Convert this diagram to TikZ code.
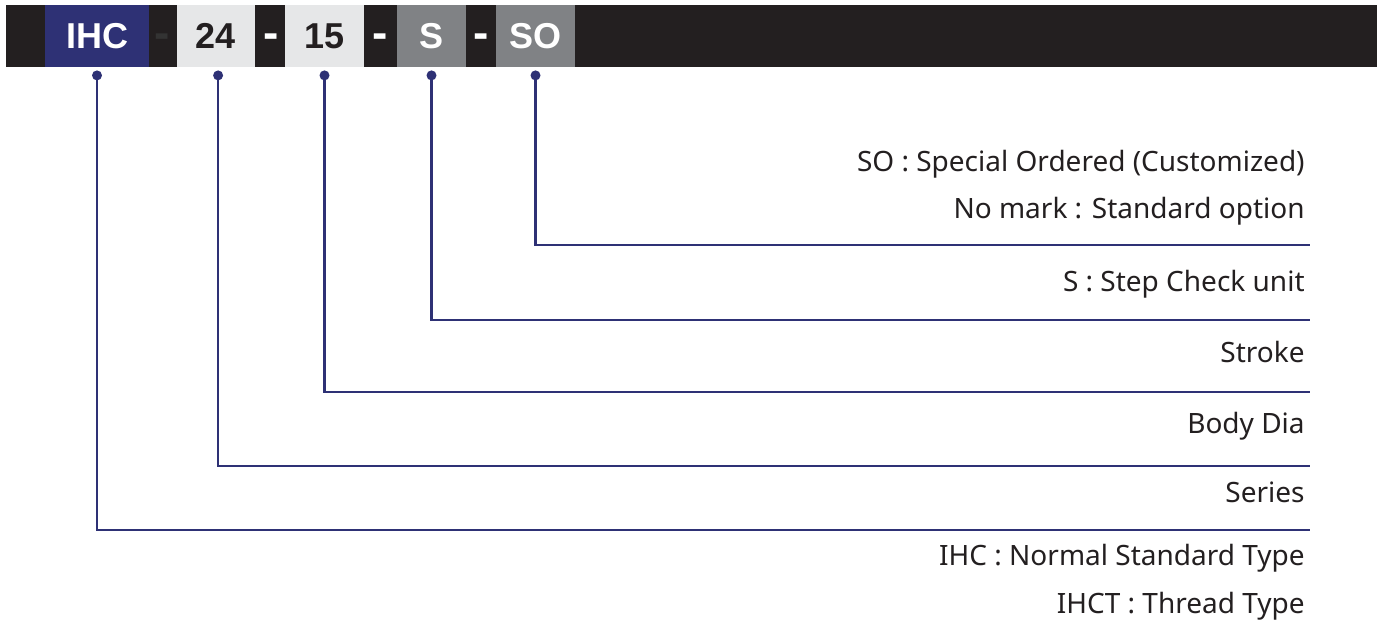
\documentclass[tikz,border=0pt]{standalone}
\usepackage{fontspec}
\setmainfont{Noto Sans}
\newfontfamily\codefont{Liberation Sans}
\usetikzlibrary{positioning}
\definecolor{navy}{HTML}{2E3175}
\definecolor{barblack}{HTML}{231F20}
\definecolor{lightgrey}{HTML}{E6E7E8}
\definecolor{midgrey}{HTML}{808285}
\tikzstyle{codebox} = [rectangle, minimum height=31pt, inner sep=0pt, font=\codefont\bfseries\fontsize{18pt}{20pt}\selectfont]
\tikzstyle{sep} = [anchor=base, inner sep=0pt, font=\codefont\bfseries\fontsize{23pt}{24pt}\selectfont, text=white]
\tikzstyle{dot} = [circle, fill=navy, minimum size=5pt, inner sep=0pt]
\tikzstyle{lead} = [navy, line width=1.1pt]
\tikzstyle{desc} = [anchor=base east, inner sep=0pt, font=\fontsize{14pt}{16pt}\selectfont, text=barblack]

\begin{document}
\begin{tikzpicture}[x=0.5pt, y=-0.5pt]
\useasboundingbox (0,0) rectangle (1384,620);
\fill[barblack] (6,5) rectangle (1377,67);

% code boxes
\node (bIHC) [codebox, fill=navy, text=white, minimum width=52pt] at (97,36) {IHC};
\node (bDia) [codebox, fill=lightgrey, text=barblack, minimum width=39pt] at (215.5,36) {24};
\node (bStroke) [codebox, fill=lightgrey, text=barblack, minimum width=39.5pt] at (324.5,36) {15};
\node (bCheck) [codebox, fill=midgrey, text=white, minimum width=34.5pt] at (431.5,36) {S};
\node (bOpt) [codebox, fill=midgrey, text=white, minimum width=39.5pt] at (535.5,36) {SO};
\node (s1) [sep, text=black!80] at (162,49) {-};
\node (s2) [sep] at (271,49) {-};
\node (s3) [sep] at (380.5,49) {-};
\node (s4) [sep] at (481,49) {-};

% dots under boxes
\node (dIHC) [dot, below=1.3pt of bIHC] {};
\node (dDia) [dot, below=1.3pt of bDia, xshift=1.3pt] {};
\node (dStroke) [dot, below=1.3pt of bStroke] {};
\node (dCheck) [dot, below=1.3pt of bCheck] {};
\node (dOpt) [dot, below=1.3pt of bOpt] {};

% line ends
\coordinate (eOpt) at (1310,245);
\coordinate (eCheck) at (1310,320);
\coordinate (eStroke) at (1310,392);
\coordinate (eDia) at (1310,466);
\coordinate (eIHC) at (1310,530);

\draw [lead] (dOpt.center) |- (eOpt);
\draw [lead] (dCheck.center) |- (eCheck);
\draw [lead] (dStroke.center) |- (eStroke);
\draw [lead] (dDia.center) |- (eDia);
\draw [lead] (dIHC.center) |- (eIHC);

% descriptions
\node (tSO) [desc] at (1305,171) {SO : Special Ordered (Customized)};
\node (tNo) [desc] at (1305,219) {No mark : Standard option};
\node (tStep) [desc] at (1305,291) {S : Step Check unit};
\node (tStroke) [desc] at (1305,362) {Stroke};
\node (tDia) [desc] at (1305,433) {Body Dia};
\node (tSeries) [desc] at (1305,502) {Series};
\node (tIHC) [desc] at (1305,565) {IHC : Normal Standard Type};
\node (tIHCT) [desc] at (1305,613) {IHCT : Thread Type};
\end{tikzpicture}
\end{document}
